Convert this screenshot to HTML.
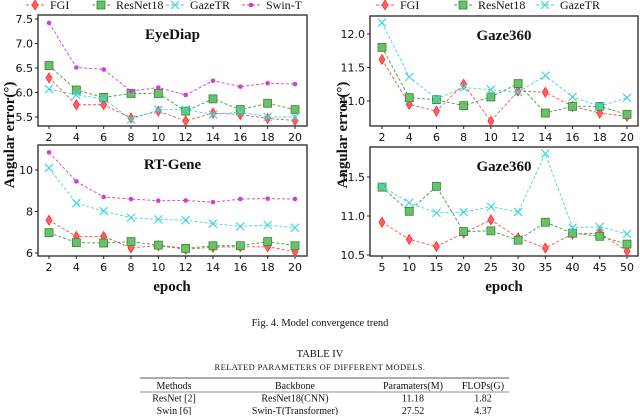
<!DOCTYPE html>
<html><head><meta charset="utf-8"><style>
body{margin:0;background:#fff;width:640px;height:415px;overflow:hidden}
svg{font-family:"Liberation Serif",serif}
</style></head><body>
<svg id="c" width="640" height="415" viewBox="0 0 640 415"></svg>
<script>
const epochsA=[2,4,6,8,10,12,14,16,18,20];
const epochsB=[5,10,15,20,25,30,35,40,45,50];
const eyeFGI=[6.3,5.75,5.75,5.48,5.62,5.42,5.58,5.55,5.47,5.43];
const eyeRes=[6.55,6.05,5.9,5.98,5.98,5.62,5.87,5.65,5.78,5.65];
const eyeGaze=[6.07,5.95,5.87,5.45,5.65,5.65,5.55,5.6,5.5,5.5];
const eyeSwin=[7.42,6.51,6.47,6.03,6.1,5.95,6.24,6.12,6.19,6.17];
const rtFGI=[7.58,6.8,6.8,6.25,6.35,6.18,6.28,6.3,6.3,6.07];
const rtRes=[6.98,6.5,6.48,6.55,6.38,6.22,6.35,6.35,6.55,6.35];
const rtGaze=[10.1,8.4,8.02,7.7,7.62,7.58,7.42,7.28,7.35,7.22];
const rtSwin=[10.85,9.45,8.7,8.6,8.52,8.53,8.45,8.6,8.62,8.6];
const g1FGI=[11.62,10.95,10.85,11.25,10.7,11.15,11.13,10.92,10.82,10.77];
const g1Res=[11.8,11.05,11.02,10.93,11.06,11.26,10.82,10.92,10.92,10.8];
const g1Gaze=[12.17,11.36,11.03,11.2,11.17,11.13,11.38,11.06,10.92,11.05];
const g2FGI=[10.92,10.7,10.61,10.78,10.95,10.72,10.59,10.77,10.78,10.55];
const g2Res=[11.37,11.06,11.38,10.8,10.81,10.69,10.92,10.78,10.74,10.64];
const g2Gaze=[11.38,11.17,11.04,11.05,11.12,11.05,11.8,10.85,10.86,10.77];
const ticksEye=[5.5,6.0,6.5,7.0,7.5];
const ticksRt=[6,8,10];
const ticksG1=[11.0,11.5,12.0];
const ticksG2=[10.5,11.0,11.5];

const NS="http://www.w3.org/2000/svg";
const svg=document.getElementById('c');
function el(t,a,p){const e=document.createElementNS(NS,t);for(const k in a)e.setAttribute(k,a[k]);(p||svg).appendChild(e);return e;}
const COL={FGI:"#ff4d4d",Res:"#3a9f3a",Gaze:"#40d8d8",Swin:"#d040d0"};
function marker(g,type,x,y){
  let m;
  if(type==="FGI")m=el('path',{d:`M${x},${y-5}L${x+3},${y}L${x},${y+5}L${x-3},${y}Z`,fill:"#ff6060",stroke:"#ff3030","stroke-width":0.8},g);
  else if(type==="Res")m=el('rect',{x:x-4,y:y-4,width:8,height:8,fill:"#6cbf6c",stroke:"#2e8b2e","stroke-width":0.8},g);
  else if(type==="Gaze"){m=el('path',{d:`M${x-4},${y-4}L${x+4},${y+4}M${x-4},${y+4}L${x+4},${y-4}`,stroke:COL.Gaze,"stroke-width":1.2},g);}
  else m=el('circle',{cx:x,cy:y,r:2.3,fill:COL.Swin},g);
  
  
}
function panel(name,box,xs,xd,yd,yt,fmt,series,title){
  const g=el('g',{});
  
  
  const [L,T,R,B]=box;
  const sx=v=>xd.px[0]+(v-xd.v[0])*(xd.px[1]-xd.px[0])/(xd.v[1]-xd.v[0]);
  const sy=v=>yd.px[0]+(v-yd.v[0])*(yd.px[1]-yd.px[0])/(yd.v[1]-yd.v[0]);
  const fr=el('rect',{x:L,y:T,width:R-L,height:B-T,fill:"#fff",stroke:"#333","stroke-width":1.4},g);
  
  xs.forEach(v=>{el('line',{x1:sx(v),x2:sx(v),y1:B,y2:B+3,stroke:"#222"},g);
    const t=el('text',{x:sx(v),y:B+15,"text-anchor":"middle","font-size":11,"font-family":"DejaVu Sans, sans-serif",fill:"#111"},g);t.textContent=v;
    });
  yt.forEach(v=>{el('line',{x1:L-3,x2:L,y1:sy(v),y2:sy(v),stroke:"#222"},g);
    const t=el('text',{x:L-5,y:sy(v)+4,"text-anchor":"end","font-size":11,"font-family":"DejaVu Sans, sans-serif",fill:"#111"},g);t.textContent=v.toFixed(fmt);
    });
  series.forEach(([type,vals])=>{
    const pts=vals.map((v,i)=>sx(xs[i])+","+sy(v)).join(" ");
    const pl=el('polyline',{points:pts,fill:"none",stroke:COL[type],"stroke-width":0.9,"stroke-dasharray":"3,2"},g);
    
    vals.forEach((v,i)=>marker(g,type,sx(xs[i]),sy(v)));
  });
  const tt=el('text',{x:(L+R)/2,y:T+24,"text-anchor":"middle","font-size":15,"font-weight":"bold",fill:"#111"},g);
  tt.textContent=title;
}
panel('eyediap',[38,15,307,126],epochsA,{v:[2,20],px:[49,295]},{v:[5.5,7.5],px:[117,19]},ticksEye,1,
 [["FGI",eyeFGI],["Res",eyeRes],["Gaze",eyeGaze],["Swin",eyeSwin]],"EyeDiap");
panel('rtgene',[38,145,307,256],epochsA,{v:[2,20],px:[49,295]},{v:[6,10],px:[253,170]},ticksRt,0,
 [["FGI",rtFGI],["Res",rtRes],["Gaze",rtGaze],["Swin",rtSwin]],"RT-Gene");
panel('gaze360-a',[370,16,638,126],epochsA,{v:[2,20],px:[382,627]},{v:[11,12],px:[101,34]},ticksG1,1,
 [["FGI",g1FGI],["Res",g1Res],["Gaze",g1Gaze]],"Gaze360");
panel('gaze360-b',[370,147,638,256],epochsB,{v:[5,50],px:[382,627]},{v:[10.5,11.5],px:[255,177]},ticksG2,1,
 [["FGI",g2FGI],["Res",g2Res],["Gaze",g2Gaze]],"Gaze360");

function legend(items,y){
  items.forEach(([type,label,x])=>{
    const g=el('g',{});
    
    
    el('line',{x1:x-24,x2:x-6,y1:y,y2:y,stroke:COL[type],"stroke-dasharray":"3,2"},g);
    marker(g,type,x-15,y);
    const t=el('text',{x:x,y:y+4,"font-size":12,fill:"#111"},g);t.textContent=label;
  });
}
legend([["FGI","FGI",50],["Res","ResNet18",116],["Gaze","GazeTR",190],["Swin","Swin-T",266]],5);
legend([["FGI","FGI",400],["Res","ResNet18",478],["Gaze","GazeTR",560]],5);

function txt(x,y,s,attrs,name){const t=el('text',Object.assign({x:x,y:y,fill:"#111"},attrs));t.textContent=s;
  return t;}
txt(0,0,"Angular error(°)",{"font-size":15,"font-weight":"bold","text-anchor":"middle",transform:"translate(14,135) rotate(-90)"},"y-axis-title-left");
txt(0,0,"Angular error(°)",{"font-size":15,"font-weight":"bold","text-anchor":"middle",transform:"translate(347,135) rotate(-90)"},"y-axis-title-right");
txt(172,291,"epoch",{"font-size":15,"font-weight":"bold","text-anchor":"middle"},"x-axis-title-left");
txt(504,291,"epoch",{"font-size":15,"font-weight":"bold","text-anchor":"middle"},"x-axis-title-right");
txt(320,326,"Fig. 4.  Model convergence trend",{"font-size":10.5,"text-anchor":"middle"},"figure-caption");
txt(320,357,"TABLE IV",{"font-size":10.5,"text-anchor":"middle"},"table-title");
txt(320,370,"RELATED PARAMETERS OF DIFFERENT MODELS.",{"font-size":8.5,"text-anchor":"middle","letter-spacing":"0.4"},"table-subtitle");
el('line',{x1:140,x2:509,y1:378,y2:378,stroke:"#222","stroke-width":0.8});
el('line',{x1:140,x2:509,y1:392,y2:392,stroke:"#222","stroke-width":0.6});
const rows=[["Methods","Backbone","Paramaters(M)","FLOPs(G)"],["ResNet [2]","ResNet18(CNN)","11.18","1.82"],["Swin [6]","Swin-T(Transformer)","27.52","4.37"]];
const cx=[174,295,413,483];
rows.forEach((r,i)=>r.forEach((c,j)=>txt(cx[j],389+i*12.5,c,{"font-size":10,"text-anchor":"middle"},"table-cell")));
</script>
</body></html>
